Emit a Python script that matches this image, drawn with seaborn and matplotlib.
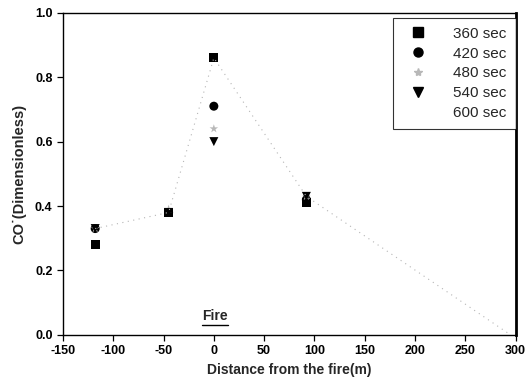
import numpy as np
import pandas as pd
import matplotlib
matplotlib.use("Agg")
import matplotlib.pyplot as plt
from matplotlib.lines import Line2D
import seaborn as sns

# Measurement positions (m) relative to the fire
distance = [-118, -45, 0, 92]

# Dimensionless CO concentration at each time step
co_360 = [0.28, 0.38, 0.86, 0.41]
co_420 = [0.33, 0.38, 0.71, 0.42]
co_480 = [0.33, 0.39, 0.64, 0.43]
co_540 = [0.33, 0.38, 0.60, 0.43]

# 600 sec profile (drawn as a faint dotted trend line)
distance_600 = [-118, -45, 0, 92, 295]
co_600 = [0.33, 0.38, 0.86, 0.43, 0.0]

labels = ["360 sec", "420 sec", "480 sec", "540 sec", "600 sec"]

sns.set_style("ticks")
plt.rcParams["font.family"] = ["Liberation Sans", "DejaVu Sans"]
plt.rcParams["axes.unicode_minus"] = False

frames = []
for lab, vals in zip(labels[:4], [co_360, co_420, co_480, co_540]):
    frames.append(pd.DataFrame({"x": distance, "y": vals, "t": lab}))
df = pd.concat(frames, ignore_index=True)
df600 = pd.DataFrame({"x": distance_600, "y": co_600, "t": labels[4]})

fig = plt.figure(figsize=(5.25, 3.88), dpi=100)
ax = fig.add_axes([0.12, 0.137, 0.862, 0.830])

sns.lineplot(data=df600, x="x", y="y", ax=ax, color="#b5b5b5", lw=0.8,
             linestyle=(0, (1, 4)), legend=False)

palette = {"360 sec": "black", "420 sec": "black", "480 sec": "#b8b8b8", "540 sec": "black"}
markers = {"360 sec": "s", "420 sec": "o", "480 sec": "*", "540 sec": "v"}
sns.scatterplot(data=df, x="x", y="y", hue="t", style="t", palette=palette,
                markers=markers, s=42, edgecolor="none", ax=ax, legend=False)

# Legend built from the same series styles
handles = [
    Line2D([], [], ls="none", marker="s", color="black", ms=6.5),
    Line2D([], [], ls="none", marker="o", color="black", ms=6.5),
    Line2D([], [], ls="none", marker="*", color="#b8b8b8", ms=6),
    Line2D([], [], ls="none", marker="v", color="black", ms=7),
    Line2D([], [], ls="none", marker="", color="white"),
]
leg = ax.legend(handles, labels, loc="upper right", bbox_to_anchor=(1.0, 0.985),
                frameon=True, fancybox=False, fontsize=11, handlelength=2.0,
                handletextpad=1.3, labelspacing=0.38, borderpad=0.6,
                borderaxespad=0.0)
leg.get_frame().set_edgecolor("black")
leg.get_frame().set_linewidth(0.8)

ax.set_xlim(-150, 300)
ax.set_ylim(0.0, 1.0)
ax.set_xticks(np.arange(-150, 301, 50))
ax.set_yticks(np.arange(0.0, 1.01, 0.2))
ax.set_yticklabels([f"{v:.1f}" for v in np.arange(0.0, 1.01, 0.2)])
ax.tick_params(axis="both", direction="out", length=4, width=0.9,
               labelsize=9, colors="black")
for lab in ax.get_xticklabels() + ax.get_yticklabels():
    lab.set_fontweight("bold")

for side in ["left", "bottom", "top"]:
    ax.spines[side].set_color("black")
    ax.spines[side].set_linewidth(1.0)
ax.spines["right"].set_color("black")
ax.spines["right"].set_linewidth(2.0)

ax.set_xlabel("Distance from the fire(m)", fontsize=10, fontweight="bold", labelpad=4)
ax.set_ylabel("CO\u02d9(Dimensionless)", fontsize=10.5, fontweight="bold", labelpad=6)

# Fire location marker text, underlined
ax.text(1, 0.038, "Fire", ha="center", va="bottom", fontsize=10, fontweight="bold")
ax.plot([-12, 14], [0.032, 0.032], color="black", lw=1.0)

fig.savefig("out.png", dpi=100)
